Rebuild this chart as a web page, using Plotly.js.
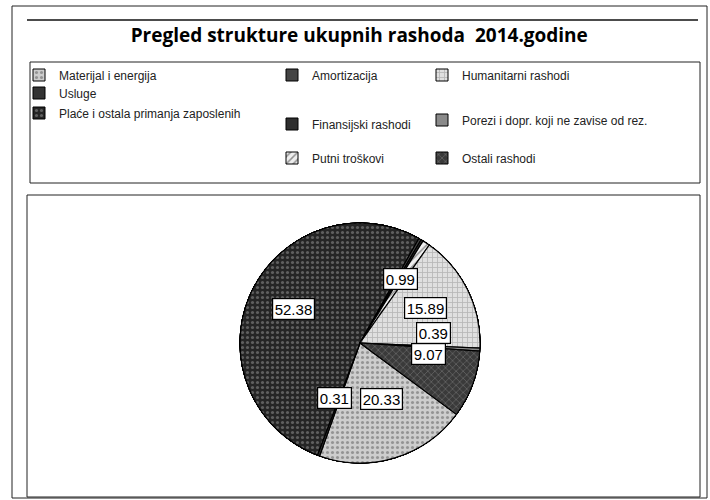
<!DOCTYPE html>
<html>
<head>
<meta charset="utf-8">
<script src="https://cdn.plot.ly/plotly-3.0.1.min.js"></script>
<style>html,body{margin:0;padding:0;background:#fff}#chart{width:710px;height:500px}</style>
</head>
<body>
<div id="chart"></div>
<script>
// ---- data ----
const chartTitle = 'Pregled strukture ukupnih rashoda  2014.godine';
const categories = ['Materijal i energija', 'Usluge', 'Plaće i ostala primanja zaposlenih',
                    'Amortizacija', 'Finansijski rashodi', 'Putni troškovi',
                    'Humanitarni rashodi', 'Porezi i dopr. koji ne zavise od rez.', 'Ostali rashodi'];
const shares = [20.33, 0.31, 52.38, 0.35, 0.29, 0.99, 15.89, 0.39, 9.07];
const showValueLabel = [true, true, true, false, false, true, true, true, true];

// ---- style ----
const W = 710, H = 500;
const fillColors = ['#cdcdcd', '#333333', '#252525', '#444444', '#2e2e2e', '#eeeeee', '#e0e0e0', '#8a8a8a', '#3a3a3a'];
const patShapes  = ['.', '', '.', '', '', '/', '+', '', 'x'];
const patColors  = ['#5a5a5a', '#000', '#9a9a9a', '#000', '#000', '#333333', '#8c8c8c', '#000', '#8a8a8a'];
// legend item anchor (pixel) for each category: [x of legend box left, y of item center]
const legendPos = [[19, 75], [19, 93], [19, 113], [272, 75], [272, 124], [272, 158], [422, 75], [422, 120], [422, 158]];
const pieCx = 360, pieCy = 343, pieR = 120, rotation = 126.5, labelRf = 0.61;

const px = x => x / W, py = y => 1 - y / H;
const domain = { x: [px(pieCx - pieR), px(pieCx + pieR)], y: [py(pieCy + pieR), py(pieCy - pieR)] };

const traces = [];
// legend carriers (drawn underneath the main pie, same domain)
categories.forEach((c, i) => {
  traces.push({
    type: 'pie', labels: [c], values: [shares[i]], domain: domain, sort: false,
    textinfo: 'none', hoverinfo: 'skip',
    legend: i === 0 ? 'legend' : 'legend' + (i + 1),
    marker: { colors: [fillColors[i]], line: { color: '#000', width: 1 },
              pattern: { shape: [patShapes[i]], fgcolor: [patColors[i]], size: 5, solidity: 0.3, fillmode: 'overlay' } }
  });
});
// main pie
traces.push({
  type: 'pie', labels: categories, values: shares, domain: domain, sort: false,
  direction: 'clockwise', rotation: rotation, textinfo: 'none', hoverinfo: 'label+value',
  showlegend: false,
  marker: { colors: fillColors, line: { color: '#000', width: 1.2 },
            pattern: { shape: patShapes, fgcolor: patColors, size: 5, solidity: 0.3, fillmode: 'overlay' } }
});

// value labels in white boxes, placed at slice mid-angles computed from the data
const total = shares.reduce((a, b) => a + b, 0);
const annotations = [];
let cum = 0;
shares.forEach((v, i) => {
  const mid = (rotation + (cum + v / 2) / total * 360) * Math.PI / 180;
  cum += v;
  if (!showValueLabel[i]) return;
  const x = pieCx + labelRf * pieR * Math.sin(mid);
  const y = pieCy - labelRf * pieR * Math.cos(mid) - 3;
  annotations.push({
    xref: 'paper', yref: 'paper', x: px(x), y: py(y), showarrow: false,
    text: v.toFixed(2), font: { family: 'Liberation Sans, Arial, sans-serif', size: 15, color: '#000' },
    bgcolor: '#fff', bordercolor: '#000', borderwidth: 1.2, borderpad: 1.5
  });
});

const rect = (x0, y0, x1, y1, w) => ({ type: 'rect', xref: 'paper', yref: 'paper',
  x0: px(x0), x1: px(x1), y0: py(y1), y1: py(y0), line: { color: '#222', width: w || 1 }, layer: 'below' });

const layout = {
  width: W, height: H, margin: { l: 0, r: 0, t: 0, b: 0 },
  paper_bgcolor: '#fff', plot_bgcolor: '#fff',
  title: { text: '<b>' + chartTitle + '</b>', x: 0.506, xanchor: 'center', y: py(35), yanchor: 'middle',
           font: { family: 'Open Sans, sans-serif', size: 19, color: '#000' } },
  annotations: annotations,
  shapes: [
    rect(12, 6, 707, 498, 1),
    { type: 'line', xref: 'paper', yref: 'paper', x0: px(27), x1: px(698), y0: py(20), y1: py(20), line: { color: '#111', width: 1.5 } },
    rect(30, 62, 700, 183, 1),
    rect(27, 195, 700, 497, 1)
  ]
};
legendPos.forEach((p, i) => {
  layout[i === 0 ? 'legend' : 'legend' + (i + 1)] = {
    x: px(p[0]), y: py(p[1]), xanchor: 'left', yanchor: 'middle', orientation: 'v',
    bgcolor: 'rgba(0,0,0,0)', borderwidth: 0, itemwidth: 30,
    font: { family: 'Liberation Sans, Arial, sans-serif', size: 12, color: '#222' }
  };
});

Plotly.newPlot('chart', traces, layout, { displayModeBar: false, staticPlot: true });
</script>
</body>
</html>
